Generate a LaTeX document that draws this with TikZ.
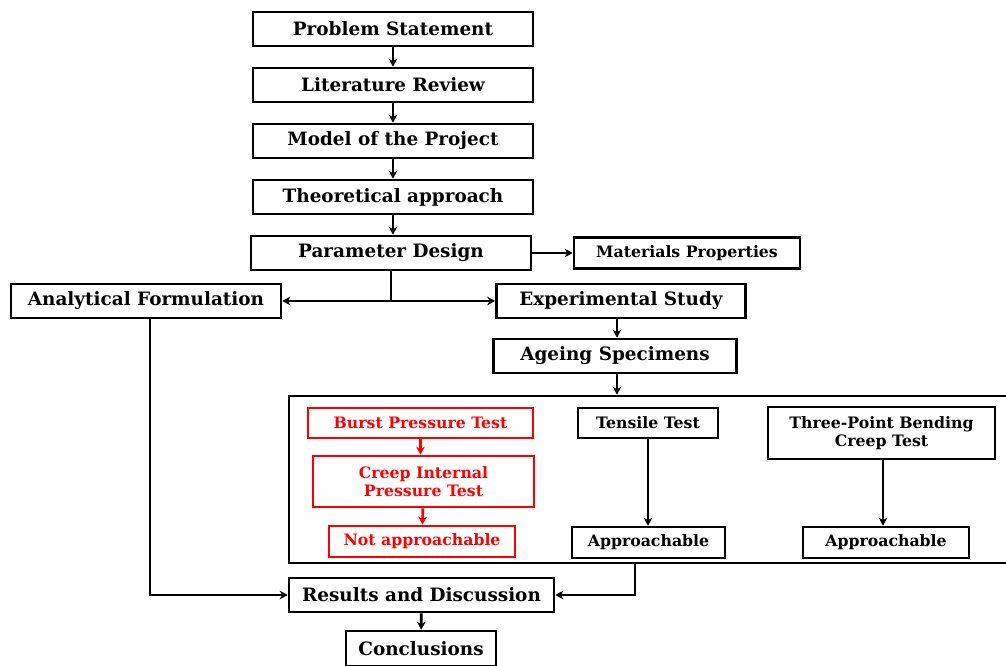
\documentclass[tikz,border=0pt]{standalone}
\usepackage{fontspec}
\setmainfont{DejaVu Serif}
\usetikzlibrary{arrows.meta}

\begin{document}
\begin{tikzpicture}[x=0.75pt, y=-0.75pt,
	box/.style={rectangle, draw, line width=2pt, inner sep=0pt, align=center, font=\bfseries\fontsize{13.8}{15}\selectfont},
	smallbox/.style={box, font=\bfseries\fontsize{11.8}{13.5}\selectfont},
	redbox/.style={smallbox, draw=red, text=red},
	link/.style={line width=2pt, -{Stealth[length=6pt,width=6.5pt]}}]

\useasboundingbox (0,0) rectangle (1006,666);
\clip (0,0) rectangle (1006,666);

% main column
\node[box, minimum width=210pt, minimum height=25.5pt] (prob) at (393,29) {Problem Statement};
\node[box, minimum width=210pt, minimum height=25.5pt] (lit) at (393,85) {Literature Review};
\node[box, minimum width=210pt, minimum height=25.5pt] (model) at (393,141) {Model of the Project};
\node[box, minimum width=210pt, minimum height=25.5pt] (theo) at (393,197) {Theoretical approach};
\node[box, minimum width=210pt, minimum height=25.5pt] (param) at (391,253) {Parameter Design};
\node[smallbox, minimum width=169.5pt, minimum height=23.25pt] (mat) at (687,253) {Materials Properties};
\node[box, minimum width=202.5pt, minimum height=25.5pt] (anal) at (146,301) {Analytical Formulation};
\node[box, minimum width=186.75pt, minimum height=25.5pt] (exp) at (621,301) {Experimental Study};
\node[box, minimum width=182.25pt, minimum height=25.5pt] (age) at (615,356) {Ageing Specimens};

% tests
\node[rectangle, draw, line width=2pt, minimum width=540.75pt, minimum height=125.25pt] (tests) at (649.5,479.5) {};
\node[redbox, minimum width=168.75pt, minimum height=22.5pt] (burst) at (420.5,423) {Burst Pressure Test};
\node[redbox, minimum width=165.75pt, minimum height=38.25pt] (creep) at (423.5,481.5) {Creep Internal\\Pressure Test};
\node[redbox, minimum width=139.5pt, minimum height=23.25pt] (notap) at (422,541.5) {Not approachable};
\node[smallbox, minimum width=105pt, minimum height=22.5pt] (tens) at (648,423) {Tensile Test};
\node[smallbox, minimum width=114.75pt, minimum height=23.25pt] (ap1) at (648.5,542.5) {Approachable};
\node[smallbox, minimum width=170.25pt, minimum height=39pt] (bend) at (881.5,433) {Three-Point Bending\\Creep Test};
\node[smallbox, minimum width=124.5pt, minimum height=23.25pt] (ap2) at (886,542.5) {Approachable};

% results
\node[box, minimum width=198.75pt, minimum height=25.5pt] (res) at (421.5,595) {Results and Discussion};
\node[box, minimum width=112.5pt, minimum height=26.25pt] (conc) at (421,648.5) {Conclusions};

\coordinate (split) at (param.south |- anal);
\coordinate (resL) at (anal.south -| 150,0);
\coordinate (resR) at (635,0);

\draw[link] (prob) -- (lit);
\draw[link] (lit) -- (model);
\draw[link] (model) -- (theo);
\draw[link] (theo) -- (param.north -| theo);
\draw[link] (param) -- (mat);
\draw[line width=2pt] (param.south) -- (split);
\draw[link] (split) -- (anal);
\draw[link] (split) -- (exp);
\draw[link] ([xshift=-3pt]exp.south) -- ([xshift=-3pt]exp.south |- age.north);
\draw[link] (age.south -| 617,0) -- (tests.north -| 617,0);

\draw[link, draw=red, fill=red] (burst) -- (burst |- creep.north);
\draw[link, draw=red, fill=red] (creep) -- (notap);
\draw[link] (tens) -- (tens |- ap1.north);
\draw[link] (bend.south -| 883,0) -- (ap2.north -| 883,0);

\draw[link] (resL) |- (res);
\draw[link] (tests.south -| resR) |- (res);
\draw[link] (res) -- (conc);
\end{tikzpicture}
\end{document}
